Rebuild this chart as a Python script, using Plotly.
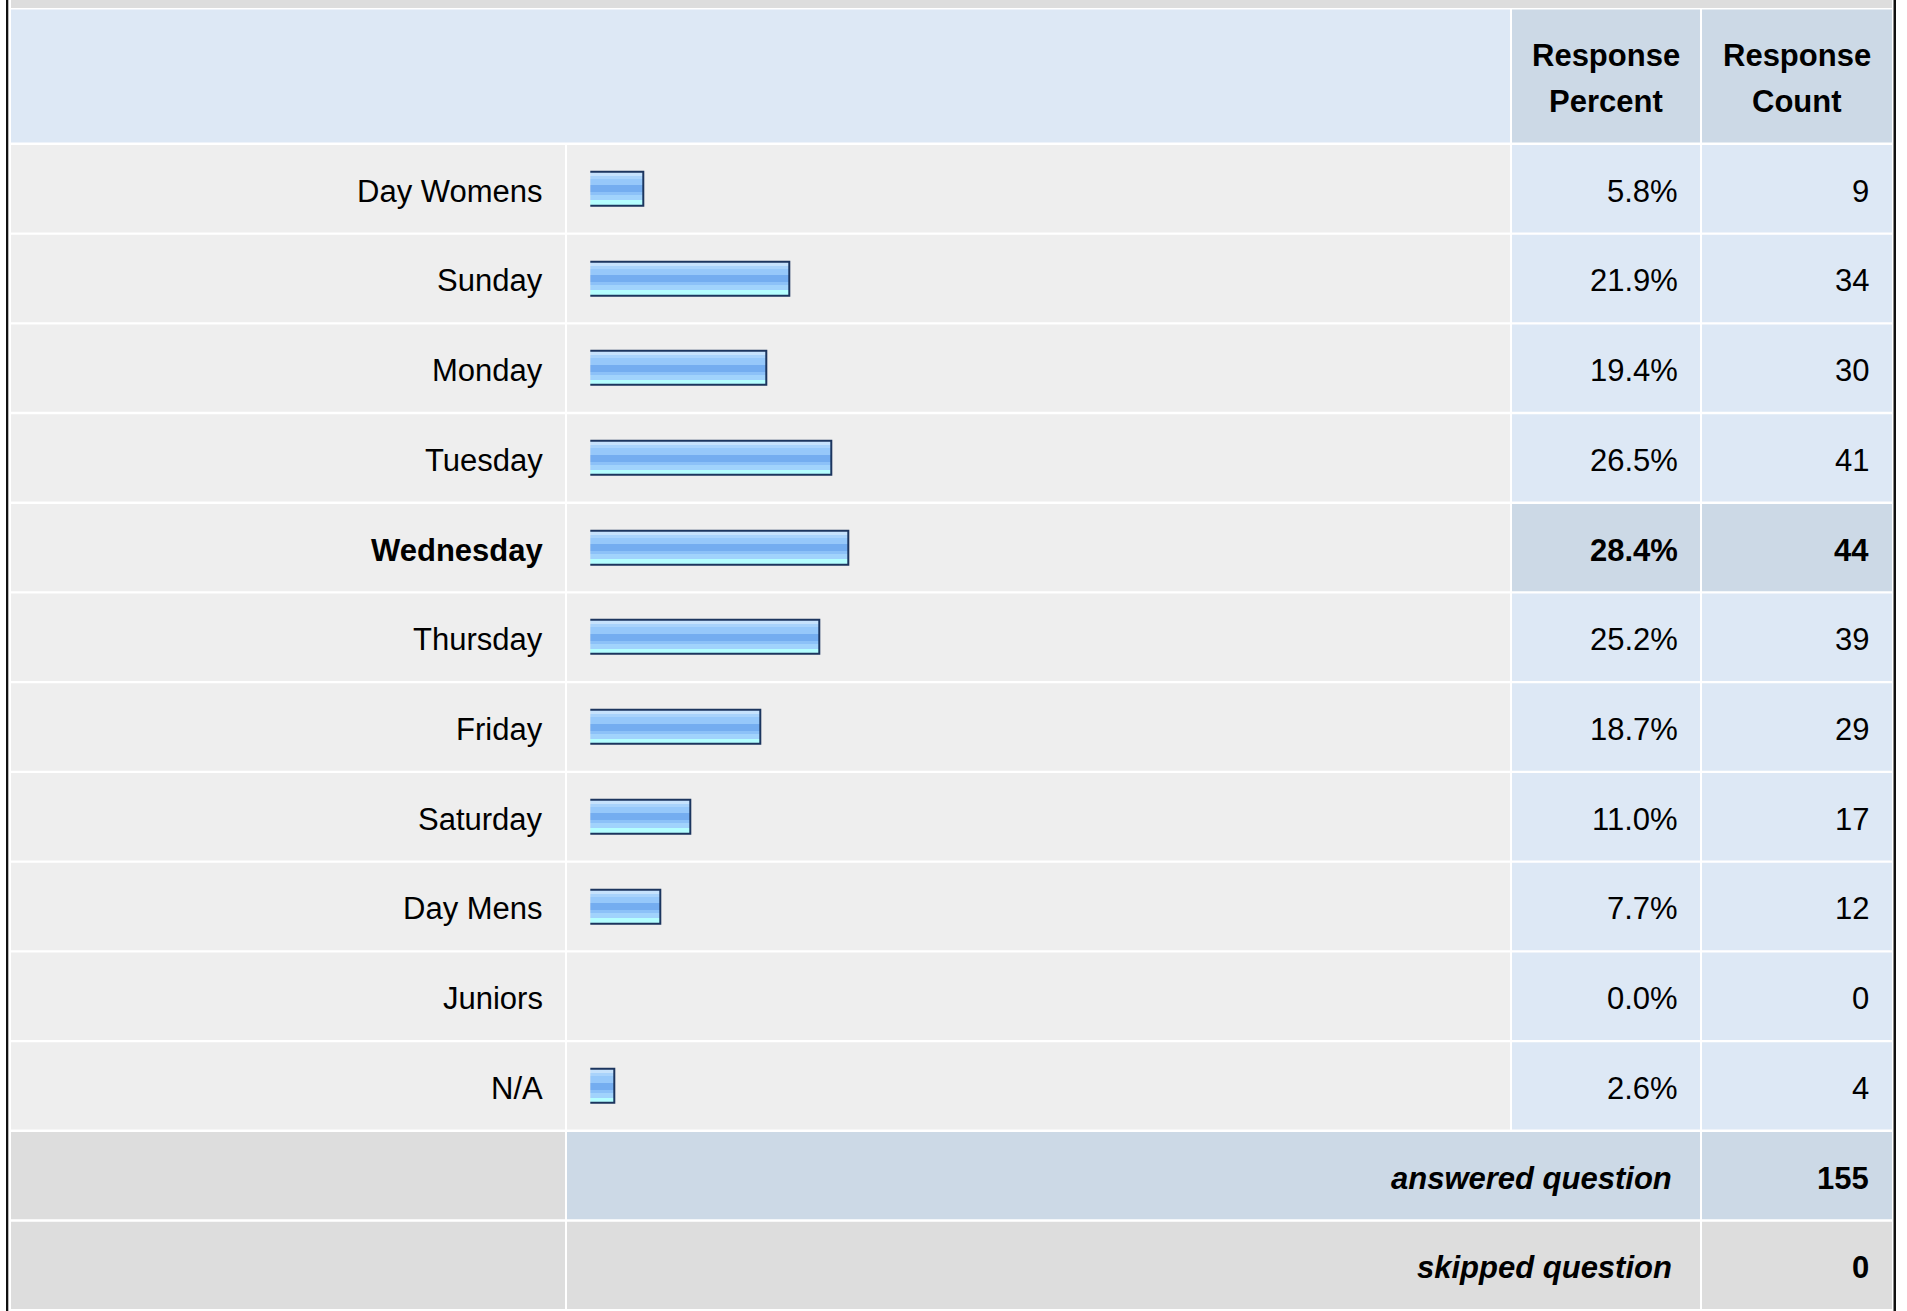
import plotly.graph_objects as go

# ---------------- data ----------------
categories = ["Day Womens", "Sunday", "Monday", "Tuesday", "Wednesday", "Thursday",
              "Friday", "Saturday", "Day Mens", "Juniors", "N/A"]
percents = [5.8, 21.9, 19.4, 26.5, 28.4, 25.2, 18.7, 11.0, 7.7, 0.0, 2.6]
counts = [9, 34, 30, 41, 44, 39, 29, 17, 12, 0, 4]
highlight = "Wednesday"
header_line1 = ["Response", "Response"]
header_line2 = ["Percent", "Count"]
summary_labels = ["answered question", "skipped question"]
summary_values = [155, 0]

# ---------------- geometry (pixels) ----------------
W, H = 1907, 1311
COLS = [(11, 565), (567, 1510), (1512, 1700), (1702, 1892)]
HEAD = (9.5, 142.5)
ROW0, PERIOD, GAP = 145.0, 89.72, 2.3
FONT = "Liberation Sans, Arial, sans-serif"
FS = 31
X0_PX, PX_PER_PCT = 590.3, 9.08   # value axis: 0 % position and scale
BAR_LEAD = 2.0                     # bars start this many px before 0 (minimum bar stub)

C_HEAD = "#dde8f5"
C_HEAD2 = "#ccd9e6"
C_ROW = "#eeeeee"
C_CELL = "#dde8f5"
C_HI = "#ccd9e6"
C_GRAY = "#dddddd"
C_BORDER = "#1c355e"


def px(x):
    return x / W


def py(y):
    return 1 - y / H


shapes = []


def rect(x0, y0, x1, y1, color):
    shapes.append(dict(type="rect", xref="paper", yref="paper",
                       x0=px(x0), x1=px(x1), y0=py(y1), y1=py(y0),
                       fillcolor=color, line=dict(width=0), layer="below"))


# page frame
rect(11, 0, 1892, 8, C_GRAY)
rect(6, 0, 8.3, H, "#111111")
rect(1893.5, 0, 1896, H, "#111111")
# header
rect(COLS[0][0], HEAD[0], COLS[1][1], HEAD[1], C_HEAD)
rect(COLS[2][0], HEAD[0], COLS[2][1], HEAD[1], C_HEAD2)
rect(COLS[3][0], HEAD[0], COLS[3][1], HEAD[1], C_HEAD2)

n = len(categories)
for i, cat in enumerate(categories):
    y0 = ROW0 + PERIOD * i
    y1 = y0 + PERIOD - GAP
    cc = C_HI if cat == highlight else C_CELL
    rect(COLS[0][0], y0, COLS[0][1], y1, C_ROW)
    rect(COLS[1][0], y0, COLS[1][1], y1, C_ROW)
    rect(COLS[2][0], y0, COLS[2][1], y1, cc)
    rect(COLS[3][0], y0, COLS[3][1], y1, cc)

# summary rows
for k in range(len(summary_labels)):
    y0 = ROW0 + PERIOD * (n + k)
    y1 = min(y0 + PERIOD - GAP, H - 1.5)
    c = C_HI if k == 0 else C_GRAY
    rect(COLS[0][0], y0, COLS[0][1], y1, C_GRAY)
    rect(COLS[1][0], y0, COLS[2][1], y1, c)
    rect(COLS[3][0], y0, COLS[3][1], y1, c)

# ---------------- bars (gradient stripes) ----------------
BAR_PX = 34.0
unit = BAR_PX / PERIOD
lead = BAR_LEAD / PX_PER_PCT
bases = [-lead if v > 0 else 0 for v in percents]
lengths = [v + lead if v > 0 else 0 for v in percents]
stripes = [  # (color, pixel height) top to bottom
    ("#c6e2fc", 4.0),
    ("#a9d3fb", 3.0),
    ("#96c8fa", 6.5),
    ("#74adf0", 7.0),
    ("#8cc1f8", 3.0),
    ("#a1d3fc", 5.0),
    ("#b4feff", 5.5),
]
fig = go.Figure()
off = -unit / 2
for color, h in stripes:
    w = h / PERIOD
    fig.add_trace(go.Bar(
        x=lengths, base=bases, y=categories, orientation="h",
        width=w, offset=off, marker=dict(color=color, line=dict(width=0)),
        hoverinfo="skip", showlegend=False))
    off += w
fig.add_trace(go.Bar(
    x=lengths, base=bases, y=categories, orientation="h",
    width=unit, offset=-unit / 2,
    customdata=percents,
    marker=dict(color="rgba(0,0,0,0)",
                line=dict(color=C_BORDER, width=[2 if v > 0 else 0 for v in percents])),
    hovertemplate="%{y}: %{customdata}%<extra></extra>", showlegend=False))

# ---------------- text ----------------
ann = []
YSH = -2.5


def text(x, y, s, anchor="right", yref="paper", bold=False, italic=False, yshift=YSH):
    if bold:
        s = "<b>" + s + "</b>"
    if italic:
        s = "<i>" + s + "</i>"
    ann.append(dict(x=x, y=y, xref="paper", yref=yref, text=s, showarrow=False,
                    xanchor=anchor, yanchor="middle", yshift=yshift,
                    font=dict(family=FONT, size=FS, color="#000000")))


for j in range(2):
    cx = px((COLS[2 + j][0] + COLS[2 + j][1]) / 2)
    text(cx, py(56), header_line1[j], anchor="center", bold=True, yshift=0.5)
    text(cx, py(101), header_line2[j], anchor="center", bold=True, yshift=-0.5)

for i, cat in enumerate(categories):
    b = cat == highlight
    text(px(544.5), cat, cat, yref="y", bold=b)
    text(px(1680), cat, f"{percents[i]:.1f}%", yref="y", bold=b)
    text(px(1871), cat, f"{counts[i]}", yref="y", bold=b)

for k, lab in enumerate(summary_labels):
    yc = ROW0 + PERIOD * (n + k) + (PERIOD - GAP) / 2
    text(px(1674), py(yc), lab, bold=True, italic=True)
    text(px(1871), py(yc), str(summary_values[k]), bold=True)

top = ROW0 - GAP / 2
bot = top + PERIOD * n
fig.update_layout(
    width=W, height=H, margin=dict(l=0, r=0, t=0, b=0),
    paper_bgcolor="white", plot_bgcolor="rgba(0,0,0,0)",
    barmode="overlay", bargap=0,
    shapes=shapes, annotations=ann, showlegend=False,
    xaxis=dict(domain=[px(X0_PX), px(X0_PX + 100 * PX_PER_PCT)], range=[0, 100],
               visible=False, fixedrange=True),
    yaxis=dict(domain=[py(bot), py(top)], type="category", categoryorder="array",
               categoryarray=categories, range=[n - 0.5, -0.5], visible=False, fixedrange=True),
)

fig.write_html("out.html", config={"displayModeBar": False},
               post_script="document.body.style.margin='0';document.body.style.overflow='hidden';")
